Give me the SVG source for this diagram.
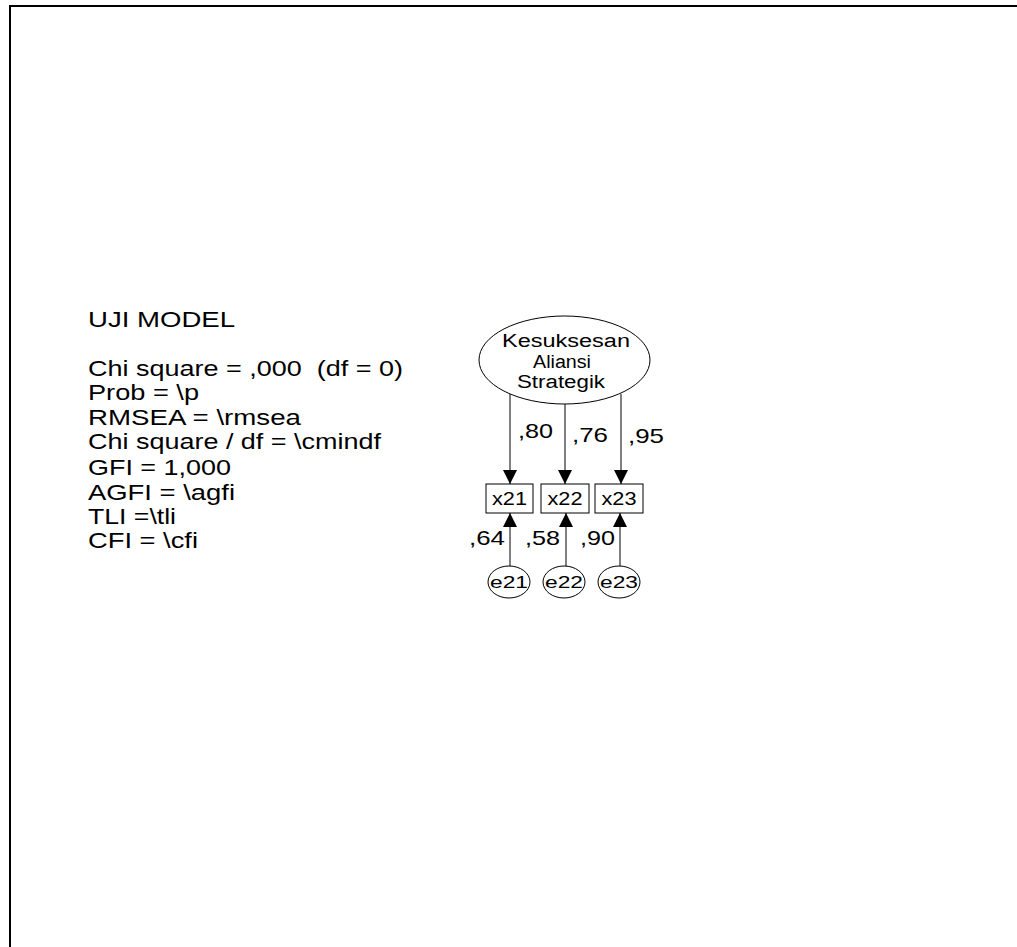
<svg xmlns="http://www.w3.org/2000/svg" width="1017" height="947" viewBox="0 0 1017 947">
<style>
  text { font-family: "Liberation Sans", Arial, sans-serif; fill: #000; }
  .info { font-size: 22px; white-space: pre; }
  .lat { font-size: 18px; }
  .obs { font-size: 18px; }
  .err { font-size: 17px; }
  .coef { font-size: 21px; }
  .shape { fill: #fff; stroke: #000; stroke-width: 1; }
  .edge { stroke: #000; stroke-width: 1; fill: none; marker-end: url(#arr); }
</style>
<defs>
  <marker id="arr" viewBox="0 0 14 14" refX="14" refY="7" markerWidth="14" markerHeight="14" markerUnits="userSpaceOnUse" orient="auto">
    <path d="M0,0 L14,7 L0,14 Z" fill="#000"/>
  </marker>
</defs>
<rect width="1017" height="947" fill="#fff"/>
<path d="M10,947 L10,6 L1017,6" fill="none" stroke="#000" stroke-width="2"/>

<g id="fit-info">
  <text class="info" x="88" y="327" textLength="147" lengthAdjust="spacingAndGlyphs">UJI MODEL</text>
  <text class="info" x="88" y="376" textLength="315" lengthAdjust="spacingAndGlyphs">Chi square = ,000  (df = 0)</text>
  <text class="info" x="88" y="400" textLength="111" lengthAdjust="spacingAndGlyphs">Prob = \p</text>
  <text class="info" x="88" y="425" textLength="213" lengthAdjust="spacingAndGlyphs">RMSEA = \rmsea</text>
  <text class="info" x="88" y="449" textLength="293" lengthAdjust="spacingAndGlyphs">Chi square / df = \cmindf</text>
  <text class="info" x="88" y="475" textLength="143" lengthAdjust="spacingAndGlyphs">GFI = 1,000</text>
  <text class="info" x="88" y="500" textLength="147" lengthAdjust="spacingAndGlyphs">AGFI = \agfi</text>
  <text class="info" x="88" y="524" textLength="88" lengthAdjust="spacingAndGlyphs">TLI =\tli</text>
  <text class="info" x="88" y="548" textLength="110" lengthAdjust="spacingAndGlyphs">CFI = \cfi</text>
</g>

<g id="connectors">
  <line class="edge" x1="510" y1="394" x2="510" y2="484"/>
  <line class="edge" x1="565" y1="404" x2="565" y2="484"/>
  <line class="edge" x1="621" y1="394" x2="621" y2="484"/>
  <line class="edge" x1="510" y1="566" x2="510" y2="513"/>
  <line class="edge" x1="566" y1="566" x2="566" y2="513"/>
  <line class="edge" x1="620" y1="566" x2="620" y2="513"/>
  <text class="coef" x="518" y="438" textLength="35" lengthAdjust="spacingAndGlyphs">,80</text>
  <text class="coef" x="572" y="442" textLength="36" lengthAdjust="spacingAndGlyphs">,76</text>
  <text class="coef" x="628" y="443" textLength="36" lengthAdjust="spacingAndGlyphs">,95</text>
  <text class="coef" x="469" y="545" textLength="36" lengthAdjust="spacingAndGlyphs">,64</text>
  <text class="coef" x="525" y="545" textLength="35" lengthAdjust="spacingAndGlyphs">,58</text>
  <text class="coef" x="580" y="545" textLength="35" lengthAdjust="spacingAndGlyphs">,90</text>
</g>

<g id="latent-kesuksesan">
  <ellipse class="shape" cx="564.5" cy="360" rx="85.5" ry="44"/>
  <text class="lat" x="566" y="347" text-anchor="middle" textLength="128" lengthAdjust="spacingAndGlyphs">Kesuksesan</text>
  <text class="lat" x="562" y="368" text-anchor="middle" textLength="58" lengthAdjust="spacingAndGlyphs">Aliansi</text>
  <text class="lat" x="561" y="388" text-anchor="middle" textLength="88" lengthAdjust="spacingAndGlyphs">Strategik</text>
</g>

<g id="obs-x21">
  <rect class="shape" x="486" y="484" width="47" height="29"/>
  <text class="obs" x="509.5" y="505" text-anchor="middle" textLength="35" lengthAdjust="spacingAndGlyphs">x21</text>
</g>
<g id="obs-x22">
  <rect class="shape" x="541" y="484" width="48" height="29"/>
  <text class="obs" x="565" y="505" text-anchor="middle" textLength="35" lengthAdjust="spacingAndGlyphs">x22</text>
</g>
<g id="obs-x23">
  <rect class="shape" x="595" y="484" width="48" height="29"/>
  <text class="obs" x="619" y="505" text-anchor="middle" textLength="35" lengthAdjust="spacingAndGlyphs">x23</text>
</g>

<g id="err-e21">
  <ellipse class="shape" cx="509" cy="582" rx="21" ry="16"/>
  <text class="err" x="509" y="588" text-anchor="middle" textLength="38" lengthAdjust="spacingAndGlyphs">e21</text>
</g>
<g id="err-e22">
  <ellipse class="shape" cx="564" cy="582" rx="21" ry="16"/>
  <text class="err" x="564" y="588" text-anchor="middle" textLength="38" lengthAdjust="spacingAndGlyphs">e22</text>
</g>
<g id="err-e23">
  <ellipse class="shape" cx="619" cy="582" rx="21" ry="16"/>
  <text class="err" x="619" y="588" text-anchor="middle" textLength="38" lengthAdjust="spacingAndGlyphs">e23</text>
</g>
</svg>
